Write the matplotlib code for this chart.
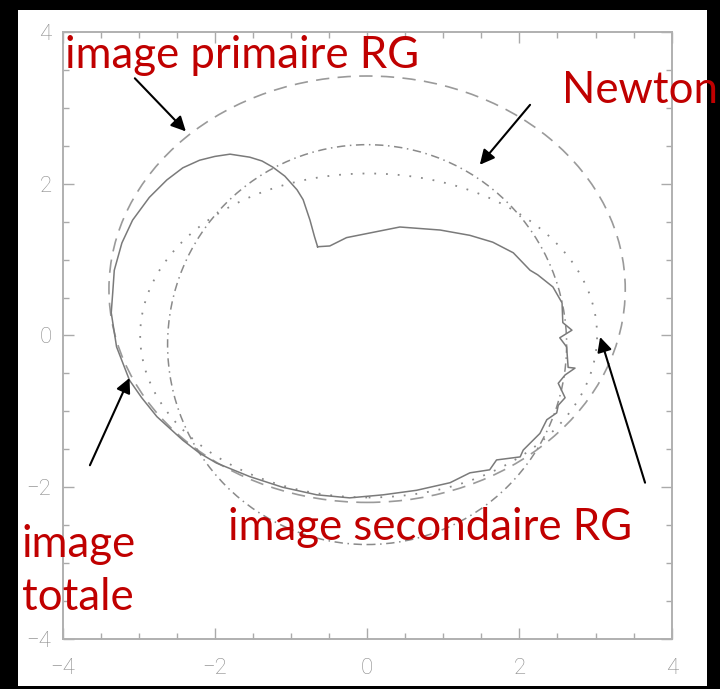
import numpy as np
import matplotlib.pyplot as plt
from matplotlib.patches import Ellipse, Rectangle
from matplotlib.ticker import MultipleLocator

# contour of the total image (solid line)
total_x = [-0.65, -0.69, -0.75, -0.84, -0.92, -1.08, -1.24, -1.38, -1.54, -1.80,
           -2.00, -2.20, -2.42, -2.63, -2.86, -3.08, -3.22, -3.32, -3.34, -3.36,
           -3.29, -3.12, -2.96, -2.76, -2.42, -2.20, -1.98, -1.54, -1.11,
           -0.66, -0.23, 0.21, 0.65, 1.09, 1.35, 1.61, 1.70, 2.01, 2.05,
           2.27, 2.36, 2.49, 2.51, 2.60, 2.51, 2.60, 2.73, 2.64, 2.62,
           2.53, 2.69, 2.57, 2.56, 2.44, 2.24, 2.14, 1.92, 1.65, 1.35,
           0.96, 0.43, 0.08, -0.27, -0.49, -0.65]
total_y = [1.17, 1.30, 1.52, 1.79, 1.92, 2.10, 2.22, 2.30, 2.35, 2.39,
           2.36, 2.31, 2.21, 2.05, 1.82, 1.52, 1.22, 0.86, 0.57, 0.30,
           -0.15, -0.59, -0.82, -1.07, -1.38, -1.55, -1.68, -1.86, -2.00,
           -2.10, -2.14, -2.10, -2.04, -1.94, -1.81, -1.77, -1.64, -1.60, -1.51,
           -1.29, -1.11, -1.02, -0.92, -0.82, -0.63, -0.52, -0.43, -0.42, -0.15,
           -0.03, 0.07, 0.17, 0.43, 0.64, 0.80, 0.86, 1.09, 1.23, 1.32,
           1.39, 1.43, 1.36, 1.29, 1.18, 1.17]

# primary GR image (dashed), secondary GR image (dotted), Newton (dash-dot)
primary_center = (0.0, 0.61)
primary_size = (6.78, 5.62)
secondary_center = (0.02, 0.0)
secondary_size = (6.0, 4.27)
newton_center = (0.0, -0.12)
newton_size = (5.24, 5.27)

ticks = [-4, -2, 0, 2, 4]

# annotations: text, arrow tail, arrow tip (data coords)
labels = ['image primaire RG', 'Newton', 'image\ntotale', 'image secondaire RG']
arrow_tail = [(-3.05, 3.39), (2.14, 3.04), (-3.64, -1.71), (3.65, -1.94)]
arrow_tip = [(-2.38, 2.69), (1.48, 2.25), (-3.12, -0.56), (3.06, -0.02)]

W, H = 720, 689
fig = plt.figure(figsize=(W / 100, H / 100), dpi=100, facecolor='black')
fig.add_artist(Rectangle((18 / W, 1 - 686 / H), (707 - 18) / W, (686 - 10) / H,
                         transform=fig.transFigure, facecolor='white',
                         edgecolor='none', zorder=-5))

ax = fig.add_axes([62.5 / W, 1 - 639 / H, 609.2 / W, 607 / H])
ax.set_xlim(-4, 4)
ax.set_ylim(-4, 4)

ax.add_patch(Ellipse(primary_center, *primary_size, fill=False, ec='#9a9a9a',
                     lw=1.2, ls=(0, (8, 5))))
ax.add_patch(Ellipse(secondary_center, *secondary_size, fill=False, ec='#8a8a8a',
                     lw=1.3, ls=(0, (1.0, 5.5))))
ax.add_patch(Ellipse(newton_center, *newton_size, fill=False, ec='#8a8a8a',
                     lw=1.1, ls=(0, (5.5, 3, 1, 3))))
ax.plot(total_x, total_y, color='#7a7a7a', lw=1.1)

ax.set_xticks(ticks)
ax.set_yticks(ticks)
ax.xaxis.set_minor_locator(MultipleLocator(0.5))
ax.yaxis.set_minor_locator(MultipleLocator(0.5))
ax.tick_params(which='both', direction='in', top=True, right=True,
               color='#aaaaaa', width=1)
ax.tick_params(which='major', length=8)
ax.tick_params(which='minor', length=4)
ax.tick_params(axis='x', pad=14)
ax.tick_params(axis='y', pad=8)
for lbl in ax.get_xticklabels() + ax.get_yticklabels():
    lbl.set_fontfamily('Roboto')
    lbl.set_fontweight('light')
    lbl.set_fontsize(16)
    lbl.set_color('#8c8c8c')
for s in ax.spines.values():
    s.set_color('#b0b0b0')
    s.set_linewidth(1.4)

for tail, tip in zip(arrow_tail, arrow_tip):
    ax.annotate('', xy=tip, xytext=tail,
                arrowprops=dict(arrowstyle='-|>', color='black', lw=1.5,
                                mutation_scale=22, shrinkA=0, shrinkB=0))

red = '#C00000'
txt = dict(color=red, fontsize=31.5, family='Lato', va='baseline')
fig.text(65 / W, 1 - 68 / H, labels[0], **txt)
fig.text(562 / W, 1 - 103 / H, labels[1], **txt)
fig.text(22 / W, 1 - 610 / H, labels[2], linespacing=1.35, **txt)
fig.text(228 / W, 1 - 540 / H, labels[3], **txt)

fig.savefig('out.png', dpi=100, facecolor=fig.get_facecolor())
